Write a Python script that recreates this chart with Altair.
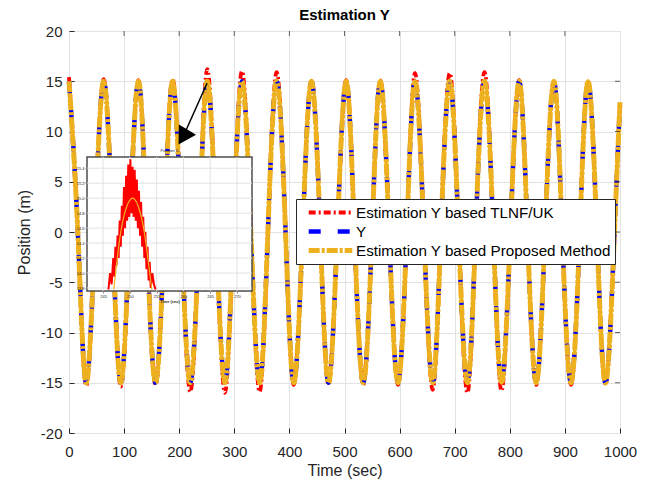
import altair as alt
import pandas as pd

# ---- main curve key points (peaks / troughs / zero crossings) ----
peak_t = [0, 63, 126, 188, 251, 314, 377, 440, 503, 565, 628, 691, 754, 817, 880, 942]
trough_t = [31, 94, 157, 220, 283, 346, 408, 471, 534, 597, 660, 723, 785, 848, 911, 974]
zero_t = [16, 47, 79, 110, 141, 173, 204, 236, 267, 298, 330, 361, 393, 424, 456, 487,
          518, 550, 581, 613, 644, 675, 707, 738, 770, 801, 832, 864, 895, 927, 958, 990]
end_t = [1000]
end_y = [12.9]

true_peak_y = [15.0] * 16
true_trough_y = [-15.0] * 16
tlnf_peak_y = [15.4, 15.2, 15.1, 15.2, 16.2, 16.0, 15.9, 15.1, 15.1, 15.1, 15.8, 15.8, 15.9, 15.1, 15.0, 15.0]
tlnf_trough_y = [-15.3, -15.4, -15.2, -15.9, -16.0, -15.9, -15.2, -15.2, -15.2, -15.2, -15.7, -16.0, -15.8, -15.2, -15.2, -15.1]

series_names = ["Estimation Y based TLNF/UK", "Y", "Estimation Y based Proposed Method"]
series_colors = ["#ff0000", "#0000ff", "#edb120"]
series_dash = [[7, 3, 2, 3], [12, 17], [11, 2, 3, 2]]
series_width = [3.8, 5.0, 4.0]

x_ticks = [0, 100, 200, 300, 400, 500, 600, 700, 800, 900, 1000]
y_ticks = [-20, -15, -10, -5, 0, 5, 10, 15, 20]

# ---- inset (zoom on the peak near t = 250) ----
inset_x_domain = [242.0, 272.8]
inset_y_domain = [13.76, 15.55]
inset_x_ticks = [245, 250, 255, 260, 265, 270]
inset_y_ticks = [13.8, 14.0, 14.2, 14.4, 14.6, 14.8, 15.0, 15.2, 15.4]
inset_prop_t = [247.0, 248.0, 249.0, 250.5, 252.0, 253.0, 254.1]
inset_prop_y = [13.78, 14.40, 14.79, 15.0, 14.79, 14.40, 13.78]
inset_tlnf_t = [246.0, 246.3, 246.6, 246.9, 247.1, 247.3, 247.5, 247.7, 247.9, 248.1, 248.3,
                248.5, 248.7, 248.9, 249.1, 249.3, 249.5, 249.7, 249.9, 250.1, 250.3, 250.5,
                250.7, 250.9, 251.1, 251.3, 251.5, 251.7, 251.9, 252.1, 252.3, 252.5, 252.7,
                252.9, 253.1, 253.3, 253.5, 253.7, 253.9, 254.2, 254.5, 254.8]
inset_tlnf_y = [13.78, 14.0, 13.85, 14.2, 13.95, 14.35, 14.1, 14.5, 14.2, 14.7, 14.35,
                14.9, 14.5, 15.15, 14.6, 15.3, 14.7, 15.45, 14.75, 15.52, 14.8, 15.42,
                14.75, 15.38, 14.7, 15.25, 14.6, 15.1, 14.5, 14.95, 14.35, 14.75, 14.2,
                14.55, 14.05, 14.35, 13.9, 14.15, 13.8, 14.0, 13.85, 13.78]

# arrow (start on the red peak, triangle head near the inset)
arrow_start = [250.5, 14.8]
arrow_head = [206.9, 9.45]

FONT = "Liberation Sans"
TXT = "#262626"


def build_series(name, p_y, t_y):
    ts = peak_t + trough_t + zero_t + end_t
    yv = p_y + t_y + [0.0] * len(zero_t) + end_y
    df = pd.DataFrame({"t": ts, "y": yv}).sort_values("t")
    df["series"] = name
    df["order"] = range(len(df))
    return df


main_df = pd.concat([
    build_series(series_names[0], tlnf_peak_y, tlnf_trough_y),
    build_series(series_names[1], true_peak_y, true_trough_y),
    build_series(series_names[2], true_peak_y, true_trough_y),
])

xs = alt.Scale(domain=[0, 1000], nice=False, zero=False)
ys = alt.Scale(domain=[-20, 20], nice=False, zero=False)
col = alt.Color("series:N", scale=alt.Scale(domain=series_names, range=series_colors),
                title=None,
                legend=alt.Legend(orient="none", legendX=227, legendY=168, symbolType="stroke",
                                  symbolSize=1900, labelFontSize=15.2, labelFont=FONT,
                                  labelColor="#000", fillColor="white", strokeColor=TXT,
                                  padding=4, rowPadding=0, clipHeight=19, labelLimit=400,
                                  labelOffset=1, symbolOffset=6, symbolStrokeWidth=3.5))
dash = alt.StrokeDash("series:N", scale=alt.Scale(domain=series_names, range=series_dash), title=None)
sw = alt.StrokeWidth("series:N", scale=alt.Scale(domain=series_names, range=series_width), title=None)

xaxis = alt.Axis(values=x_ticks, title="Time (sec)", labelFontSize=15, titleFontSize=16,
                 labelFont=FONT, titleFont=FONT, labelColor=TXT, titleColor=TXT,
                 labelExpr="'' + datum.value",
                 gridColor="#e2e2e2", domain=False, tickColor=TXT, tickSize=5, offset=-5,
                 labelPadding=11, titlePadding=3, titleFontWeight="normal", labelFlush=False)
yaxis = alt.Axis(values=y_ticks, title="Position (m)", labelFontSize=15, titleFontSize=16,
                 labelFont=FONT, titleFont=FONT, labelColor=TXT, titleColor=TXT,
                 labelExpr="'' + datum.value",
                 gridColor="#e2e2e2", domain=False, tickColor=TXT, tickSize=5, offset=-5,
                 labelPadding=7, titlePadding=8, titleFontWeight="normal")


def series_layer(name):
    d = main_df[main_df["series"] == name]
    return alt.Chart(d).mark_line(interpolate="natural", strokeCap="butt").encode(
        x=alt.X("t:Q", scale=xs, axis=xaxis),
        y=alt.Y("y:Q", scale=ys, axis=yaxis),
        order="order:Q", color=col, strokeDash=dash, strokeWidth=sw,
    )


red_layer = series_layer(series_names[0])
blue_layer = series_layer(series_names[1])
orange_layer = series_layer(series_names[2])
# solid orange body under the dashed lines, so the dash gaps stay orange
orange_base = alt.Chart(main_df[main_df["series"] == series_names[2]]).mark_line(
    interpolate="natural", color="#edb120", strokeWidth=4.0).encode(
    x=alt.X("t:Q", scale=xs, axis=xaxis), y=alt.Y("y:Q", scale=ys, axis=yaxis), order="order:Q")

# inward ticks on the top and right edges of the box
top_ticks = alt.Chart(pd.DataFrame({"t": x_ticks[1:-1], "y": [20] * 9})).mark_tick(
    orient="vertical", size=5, yOffset=2.5, color=TXT, thickness=1).encode(
    x=alt.X("t:Q", scale=xs, axis=xaxis), y=alt.Y("y:Q", scale=ys, axis=yaxis))
right_ticks = alt.Chart(pd.DataFrame({"t": [1000] * 7, "y": y_ticks[1:-1]})).mark_tick(
    orient="horizontal", size=5, xOffset=-2.5, color=TXT, thickness=1).encode(
    x=alt.X("t:Q", scale=xs, axis=xaxis), y=alt.Y("y:Q", scale=ys, axis=yaxis))

arrow_df = pd.DataFrame({"t": [arrow_start[0]], "y": [arrow_start[1]],
                         "t2": [arrow_head[0]], "y2": [arrow_head[1]]})
arrow_line = alt.Chart(arrow_df).mark_rule(color="black", strokeWidth=1.5).encode(
    x=alt.X("t:Q", scale=xs, axis=xaxis), y=alt.Y("y:Q", scale=ys, axis=yaxis), x2="t2:Q", y2="y2:Q")
arrow_tip = alt.Chart(arrow_df).mark_point(shape="triangle-up", filled=True, color="black",
                                           size=400, angle=211, opacity=1).encode(
    x=alt.X("t2:Q", scale=xs, axis=xaxis), y=alt.Y("y2:Q", scale=ys, axis=yaxis))

main = alt.layer(red_layer, orange_base, blue_layer, orange_layer,
                 top_ticks, right_ticks, arrow_line, arrow_tip)

# ---- inset ----
ixs = alt.Scale(domain=inset_x_domain, range=[18, 183], nice=False, zero=False)
iys = alt.Scale(domain=inset_y_domain, range=[260, 126], nice=False, zero=False)
frame_df = pd.DataFrame({"x0": [inset_x_domain[0]], "x1": [inset_x_domain[1]],
                         "y0": [inset_y_domain[0]], "y1": [inset_y_domain[1]]})
ixaxis = alt.Axis(orient="bottom", offset=-142, values=inset_x_ticks, grid=False, domain=False,
                  labelFontSize=4, titleFontSize=4, title="Time (sec)", labelPadding=1,
                  titlePadding=1, tickSize=2, labelColor=TXT, titleColor=TXT, zindex=2,
                  labelFont=FONT, titleFont=FONT)
iyaxis = alt.Axis(orient="left", offset=-18, values=inset_y_ticks, grid=False, domain=False,
                  labelFontSize=4, title=None, labelPadding=1, tickSize=2, labelColor=TXT,
                  zindex=2, labelFont=FONT)
frame = alt.Chart(frame_df).mark_rect(fill="white", stroke="#4d4d4d", strokeWidth=1.5).encode(
    x=alt.X("x0:Q", scale=ixs, axis=ixaxis), x2="x1:Q",
    y=alt.Y("y0:Q", scale=iys, axis=iyaxis), y2="y1:Q")
vgrid = alt.Chart(pd.DataFrame({"x": inset_x_ticks})).mark_rule(color="#e2e2e2", strokeWidth=1).encode(
    x=alt.X("x:Q", scale=ixs), y=alt.datum(inset_y_domain[0], scale=iys), y2=alt.datum(inset_y_domain[1]))
hgrid = alt.Chart(pd.DataFrame({"y": inset_y_ticks})).mark_rule(color="#e2e2e2", strokeWidth=1).encode(
    y=alt.Y("y:Q", scale=iys), x=alt.datum(inset_x_domain[0], scale=ixs), x2=alt.datum(inset_x_domain[1]))
tl_df = pd.DataFrame({"t": inset_tlnf_t, "y": inset_tlnf_y, "o": range(len(inset_tlnf_t))})
inset_red = alt.Chart(tl_df).mark_line(color="#ff0000", strokeWidth=2).encode(
    x=alt.X("t:Q", scale=ixs), y=alt.Y("y:Q", scale=iys), order="o:Q")
pr_df = pd.DataFrame({"t": inset_prop_t, "y": inset_prop_y})
inset_yel = alt.Chart(pr_df).mark_line(color="#edb120", strokeWidth=1.2, interpolate="natural").encode(
    x=alt.X("t:Q", scale=ixs), y=alt.Y("y:Q", scale=iys))
ititle = alt.Chart(pd.DataFrame({"t": [257.4], "y": [15.63], "txt": ["Position Y"]})).mark_text(
    fontSize=4, font=FONT, color=TXT).encode(x=alt.X("t:Q", scale=ixs), y=alt.Y("y:Q", scale=iys), text="txt:N")

inset = alt.layer(frame, vgrid, hgrid, inset_red, inset_yel, ititle)

chart = alt.layer(main, inset).resolve_scale(x="independent", y="independent").properties(
    width=551, height=402,
    title=alt.TitleParams("Estimation Y", font=FONT, fontSize=15, fontWeight="bold", color="#000",
                          anchor="middle", offset=1),
    autosize=alt.AutoSizeParams(type="none"),
    padding={"left": 69, "top": 31, "right": 31, "bottom": 52},
).configure_view(stroke=TXT, strokeWidth=1).configure(background="white")

chart.save("out.html", embed_options={"renderer": "svg", "actions": False})
